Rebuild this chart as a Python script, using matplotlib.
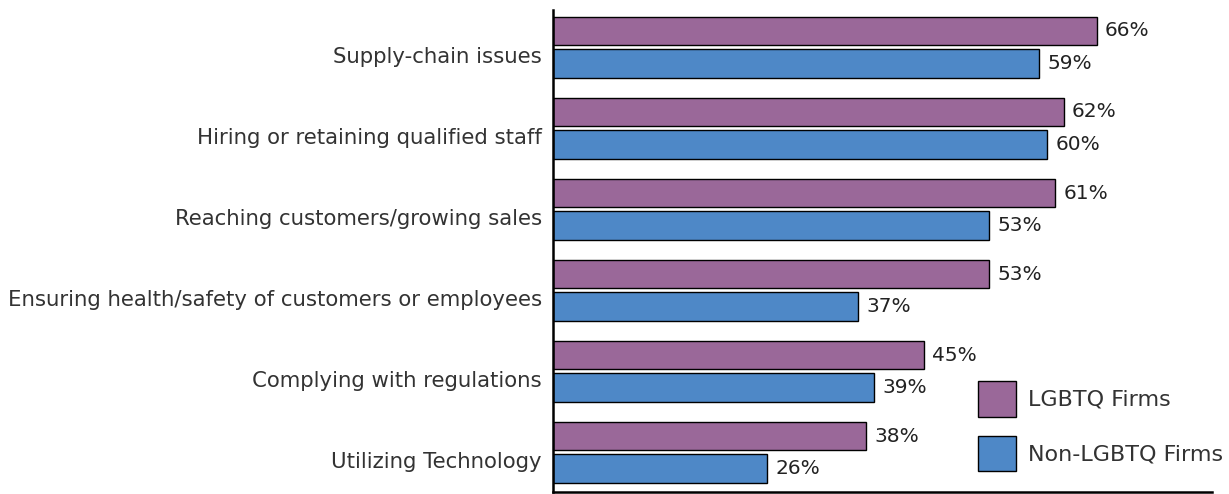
import numpy as np
import matplotlib.pyplot as plt

categories = [
    "Supply-chain issues",
    "Hiring or retaining qualified staff",
    "Reaching customers/growing sales",
    "Ensuring health/safety of customers or employees",
    "Complying with regulations",
    "Utilizing Technology",
]
lgbtq = [66, 62, 61, 53, 45, 38]
non_lgbtq = [59, 60, 53, 37, 39, 26]

PURPLE = "#9a6899"
BLUE = "#4e88c7"
TEXT = "#333333"

plt.rcParams['font.family'] = ['DejaVu Sans']

fig = plt.figure(figsize=(12.29, 4.94), dpi=100)
ax = fig.add_axes([0.45, 0.004, 0.536, 0.976])

y = np.arange(len(categories))
h = 0.35
off = 0.2

b1 = ax.barh(y - off, lgbtq, height=h, color=PURPLE, edgecolor="black", linewidth=1, label="LGBTQ Firms")
b2 = ax.barh(y + off, non_lgbtq, height=h, color=BLUE, edgecolor="black", linewidth=1, label="Non-LGBTQ Firms")

for bars, vals in ((b1, lgbtq), (b2, non_lgbtq)):
    for bar, v in zip(bars, vals):
        ax.annotate(f"{v}%", (bar.get_width(), bar.get_y() + bar.get_height() / 2),
                    xytext=(6, 0), textcoords="offset points", va="center", ha="left",
                    fontsize=14.5, color="#222222")

ax.set_xlim(0, 80)
ax.set_ylim(5.49, -0.46)
# labels sit a little below the group centre, as in the original
ax.set_yticks(y + 0.1)
ax.set_yticklabels(categories, fontsize=15.3, color=TEXT)
ax.tick_params(axis='y', length=0, pad=8)
ax.set_xticks([])

ax.spines['right'].set_visible(False)
ax.spines['top'].set_visible(False)
ax.spines['left'].set_linewidth(1.8)
ax.spines['bottom'].set_linewidth(1.8)

leg = ax.legend(loc="upper left", bbox_to_anchor=(978 / 1229, (494 - 381) / 494),
                bbox_transform=fig.transFigure, frameon=False, borderpad=0, borderaxespad=0,
                fontsize=16, handlelength=1.7, handleheight=2.1, labelspacing=0.85,
                handletextpad=0.55, labelcolor=TEXT)

fig.savefig("out.png", dpi=100)
